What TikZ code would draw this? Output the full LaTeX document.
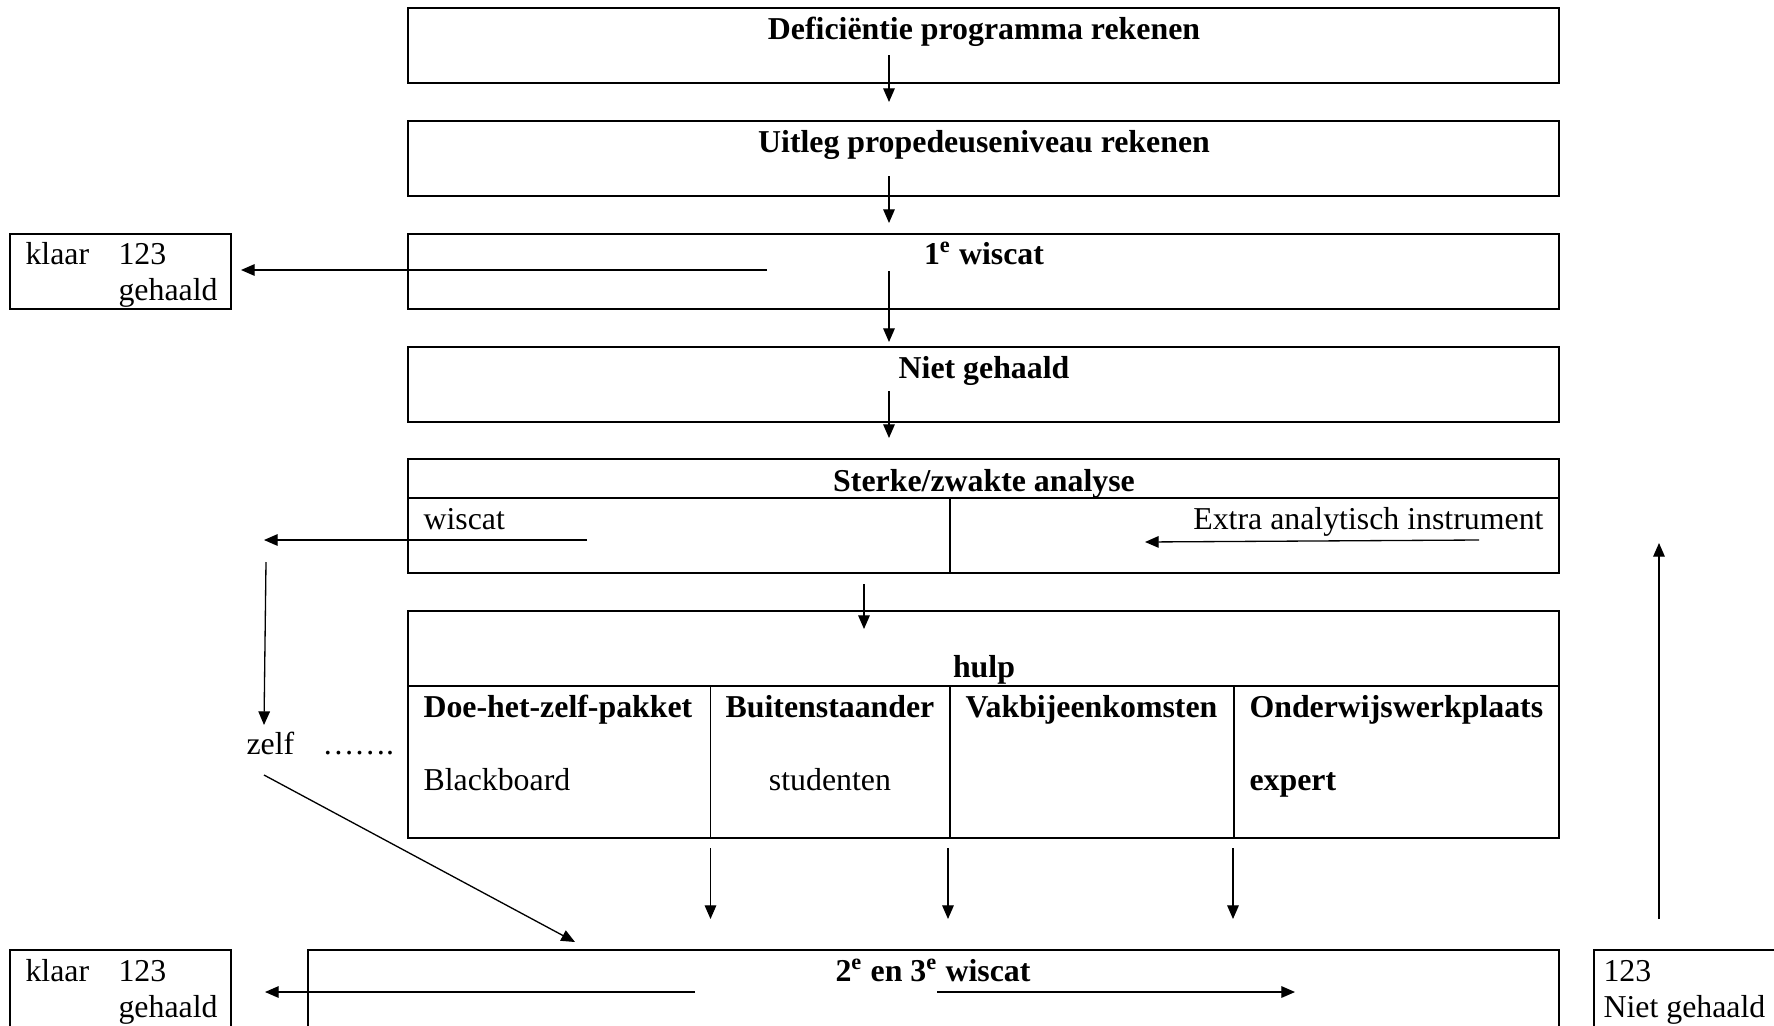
\documentclass[tikz,border=0pt]{standalone}
\usepackage{fontspec}
\setmainfont{Liberation Serif}
\usetikzlibrary{arrows.meta,fit}
\begin{document}
\begin{tikzpicture}[x=0.38pt,y=-0.38pt,
  box/.style={draw, line width=0.75pt, rectangle, inner sep=0pt},
  sepline/.style={line width=0.75pt},
  arr/.style={line width=0.5pt, -{Triangle[length=5.2pt,width=4.4pt]}},
  txt/.style={anchor=base, inner sep=0pt, font=\fontsize{12.1}{13.9}\selectfont},
  btxt/.style={txt, font=\fontsize{12.1}{13.9}\selectfont\bfseries},
]
\useasboundingbox (0,0) rectangle (1774,1025);
\clip (0,0) rectangle (1774,1025);
\fill[white] (0,0) rectangle (1774,1025);

% main column boxes
\node[box, fit={(408,8)(1559,83)}] (b1) {};
\node[box, fit={(408,121)(1559,196)}] (b2) {};
\node[box, fit={(408,234)(1559,309)}] (b3) {};
\node[box, fit={(408,347)(1559,422)}] (b4) {};
\node[box, fit={(408,459)(1559,573)}] (b5) {};
\node[box, fit={(408,611)(1559,838)}] (b6) {};
\node[box, fit={(308,950)(1559,1045)}] (b7) {};
\node[box, fit={(10,234)(231,309)}] (k1) {};
\node[box, fit={(10,950)(231,1045)}] (k2) {};
\node[box, fit={(1594,950)(1800,1045)}] (r1) {};

% dividers
\draw[sepline] (408,498) -- (1559,498);
\draw[sepline] (950,498) -- (950,573);
\draw[sepline] (408,686) -- (1559,686);
\draw[sepline] (710.5,686) -- (710.5,838);
\draw[sepline] (950,686) -- (950,838);
\draw[sepline] (1234,686) -- (1234,838);

% texts
\node[btxt] (t1) at (984,39) {Deficiëntie programma rekenen};
\node[btxt] (t2) at (984,152) {Uitleg propedeuseniveau rekenen};
\node[btxt] (t3) at (984,264) {1\textsuperscript{e} wiscat};
\node[btxt] (t4) at (984,378) {Niet gehaald};
\node[btxt] (t5) at (984,491) {Sterke/zwakte analyse};
\node[txt, anchor=base west] (t5a) at (423,529) {wiscat};
\node[txt, anchor=base east] (t5b) at (1544,529) {Extra analytisch instrument};
\node[btxt] (t6) at (984,677) {hulp};
\node[btxt, anchor=base west] (h1) at (423,717) {Doe-het-zelf-pakket};
\node[btxt] (h2) at (830,717) {Buitenstaander};
\node[btxt, anchor=base west] (h3) at (965,717) {Vakbijeenkomsten};
\node[btxt, anchor=base west] (h4) at (1249,717) {Onderwijswerkplaats};
\node[txt, anchor=base west] (c1) at (423,790) {Blackboard};
\node[txt] (c2) at (830,790) {studenten};
\node[btxt, anchor=base west] (c4) at (1249,790) {expert};
\node[btxt] (t7) at (933,981) {2\textsuperscript{e} en 3\textsuperscript{e} wiscat};
\node[txt, anchor=base west] (k1a) at (25,264) {klaar};
\node[txt, anchor=base west] (k1b) at (118,264) {123};
\node[txt, anchor=base west] (k1c) at (118,300) {gehaald};
\node[txt, anchor=base west] (k2a) at (25,981) {klaar};
\node[txt, anchor=base west] (k2b) at (118,981) {123};
\node[txt, anchor=base west] (k2c) at (118,1017) {gehaald};
\node[txt, anchor=base west] (r1a) at (1603,981) {123};
\node[txt, anchor=base west] (r1b) at (1603,1017) {Niet gehaald};
\node[txt, anchor=base west] (z1) at (246,754) {zelf};
\node[txt, anchor=base west] (z2) at (322,754) {…….};

% connector ends
\coordinate (a1s) at (889,55);   \coordinate (a1e) at (889,102);
\coordinate (a2s) at (889,176);  \coordinate (a2e) at (889,223);
\coordinate (a3s) at (889,271);  \coordinate (a3e) at (889,342);
\coordinate (a4s) at (889,391);  \coordinate (a4e) at (889,438);
\coordinate (a5s) at (864,584);  \coordinate (a5e) at (864,629);
\coordinate (l1s) at (767,270);  \coordinate (l1e) at (241,270);
\coordinate (l2s) at (587,540);  \coordinate (l2e) at (264,540);
\coordinate (e1s) at (1479,540); \coordinate (e1e) at (1145,542);
\coordinate (v1s) at (266,562);  \coordinate (v1e) at (264,725);
\coordinate (d1s) at (264,775);  \coordinate (d1e) at (575,942);
\coordinate (h1s) at (710.5,848); \coordinate (h1e) at (710.5,919);
\coordinate (h2s) at (948,848);  \coordinate (h2e) at (948,919);
\coordinate (h3s) at (1233,848); \coordinate (h3e) at (1233,919);
\coordinate (u1s) at (1659,919); \coordinate (u1e) at (1659,543);
\coordinate (bls) at (695,992);  \coordinate (ble) at (265,992);
\coordinate (brs) at (937,992);  \coordinate (bre) at (1295,992);

\draw[arr] (a1s) -- (a1e);
\draw[arr] (a2s) -- (a2e);
\draw[arr] (a3s) -- (a3e);
\draw[arr] (a4s) -- (a4e);
\draw[arr] (a5s) -- (a5e);
\draw[arr] (l1s) -- (l1e);
\draw[arr] (l2s) -- (l2e);
\draw[arr] (e1s) -- (e1e);
\draw[arr] (v1s) -- (v1e);
\draw[arr] (d1s) -- (d1e);
\draw[arr] (h1s) -- (h1e);
\draw[arr] (h2s) -- (h2e);
\draw[arr] (h3s) -- (h3e);
\draw[arr] (u1s) -- (u1e);
\draw[arr] (bls) -- (ble);
\draw[arr] (brs) -- (bre);
\end{tikzpicture}
\end{document}
